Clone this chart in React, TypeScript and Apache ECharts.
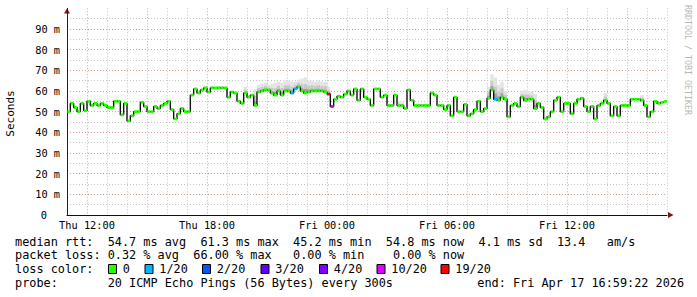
import React, { useEffect, useRef } from 'react';
import * as echarts from 'echarts';

// ---------- data ----------
const STEP_HOURS = 1 / 6; // 10-minute steps, hours since Thu 11:00

// median round-trip time (ms), one value per step
const median: number[] = [
  50, 54, 52, 50, 54, 50.5, 55, 53, 54, 53,
  54, 53, 52, 52, 55, 55, 48.5, 54, 45.5, 48,
  50, 50, 54.5, 52.5, 50, 50, 52.5, 51.5, 53, 54,
  55, 51, 46.5, 49, 51.5, 50, 50, 58, 61, 59,
  60.5, 61.5, 59.5, 61.5, 61.5, 61.5, 61.5, 61.5, 57, 59.5,
  59, 55, 54, 59, 57, 58, 53, 59.5, 60, 60.5,
  60.5, 59, 58, 60, 58, 60, 60, 59, 61, 62,
  60, 59, 59.5, 60, 60, 60, 60, 59.5, 58.5, 52.5,
  56, 57.5, 57, 58.5, 60, 58, 61, 55.5, 61, 57,
  56, 53, 61, 61, 57, 58, 53, 53, 58, 53,
  53, 51.5, 60.5, 55.5, 53, 53, 53, 53, 53, 59,
  58, 53, 53, 51, 53, 48, 57, 50, 50, 53.5,
  48, 49, 51, 55, 50, 51.5, 56.5, 60.5, 56, 55.5,
  57, 56, 47.5, 53, 54, 52.5, 57, 55.5, 56, 56,
  51.5, 54, 52, 46.5, 47.5, 50, 55.5, 57, 50, 54,
  54, 49, 54, 56, 56.5, 52.5, 50, 52.5, 46.5, 53,
  54, 55.5, 54, 48, 52.5, 48, 53, 53, 53, 56,
  56, 56, 55.5, 53, 47.5, 50, 55, 54, 54.5, 55,
];

// [step index, loss class index] for steps with packet loss
const lossAt: number[][] = [[67, 1], [68, 1], [78, 6], [79, 5], [128, 1]];
const lossColors = ['#26ff00', '#00b8ff', '#0059ff', '#5e00ff', '#7e00ff', '#dd00ff', '#ff0000'];
const lossLabels = ['0', '1/20', '2/20', '3/20', '4/20', '10/20', '19/20'];

// [step index, top of the ping smoke (ms)]
const smokeTop: number[][] = [
  [41, 62.5], [43, 62.5], [45, 62.5], [46, 62.5],
  [53, 62], [56, 61], [57, 63], [58, 63.5], [59, 64], [60, 63], [61, 63.5], [62, 64],
  [63, 64.5], [64, 64], [65, 65], [66, 65], [67, 64.5], [68, 64.5], [69, 65.5], [70, 66],
  [71, 66.5], [72, 65], [73, 65], [74, 64.5], [75, 65], [76, 64.5], [77, 64.5], [78, 62],
  [99, 55], [100, 54.5],
  [126, 62], [127, 68], [128, 66.5], [129, 63], [130, 64.5], [131, 60],
  [136, 60], [137, 60.5], [138, 60], [139, 59.5], [140, 58.5],
  [161, 59], [172, 58],
];

const xTickHours = [1, 7, 13, 19, 25];
const xTickLabels = ['Thu 12:00', 'Thu 18:00', 'Fri 00:00', 'Fri 06:00', 'Fri 12:00'];

const rttRow = ['median rtt:', '54.7 ms avg', '61.3 ms max', '45.2 ms min', '54.8 ms now', '4.1 ms sd', '13.4', 'am/s'];
const lossRow = ['packet loss:', '0.32 % avg', '66.00 % max', '0.00 % min', '0.00 % now'];
const probeRow = ['probe:', '20 ICMP Echo Pings (56 Bytes) every 300s'];
const endText = 'end: Fri Apr 17 16:59:22 2026';
const lossColorTitle = 'loss color:';
const yTitle = 'Seconds';
const sideText = 'RRDTOOL / TOBI OETIKER';

// ---------- layout ----------
const MONO = "'DejaVu Sans Mono', monospace";
const LEG_FS = 11.85;
const ADV = 7.13;
const LEG_X0 = 15;
const rttCols = [0, 13, 26, 39, 52, 65, 76, 83];
const lossCols = [0, 13, 25, 39, 53];
const probeCols = [0, 13];
const boxX = [108.5, 145, 202.5, 261, 319.5, 377, 441];
const MAJOR = '#e79a9a';
const MINOR = '#c4c4c4';

function lossClass(i: number): number {
  const f = lossAt.find((p) => p[0] === i);
  return f ? f[1] : 0;
}

export default function App() {
  const ref = useRef<HTMLDivElement>(null);
  useEffect(() => {
    if (!ref.current) return;
    const chart = echarts.init(ref.current, undefined, { renderer: 'svg' });

    const lineData = median.map((v, i) => [i * STEP_HOURS, v]);
    const barData = median.map((v, i) => [i * STEP_HOURS, v, lossClass(i)]);
    const smokeData = smokeTop.map(([i, hi]) => [i * STEP_HOURS, median[i] - 0.4, hi]);

    const xGridColors = Array.from({ length: 31 }, (_, k) => (k % 3 === 1 ? MAJOR : MINOR));
    const yGridColors = Array.from({ length: 21 }, (_, k) =>
      k === 20 ? 'rgba(0,0,0,0)' : k % 2 === 0 ? MAJOR : MINOR
    );

    const graphics: any[] = [];
    const legText = (text: string, x: number, y: number) =>
      graphics.push({
        type: 'text', x, y, silent: true,
        style: { text, fontFamily: MONO, fontSize: LEG_FS, fill: '#000', verticalAlign: 'middle', align: 'left' },
      });
    rttRow.forEach((t, k) => legText(t, LEG_X0 + rttCols[k] * ADV, 241.5));
    lossRow.forEach((t, k) => legText(t, LEG_X0 + lossCols[k] * ADV, 255.2));
    legText(lossColorTitle, LEG_X0, 269);
    lossLabels.forEach((t, k) => {
      graphics.push({
        type: 'rect', shape: { x: boxX[k], y: 264.5, width: 8, height: 9 },
        style: { fill: lossColors[k], stroke: '#000', lineWidth: 1 }, silent: true,
      });
      legText(t, boxX[k] + 14.3, 269);
    });
    probeRow.forEach((t, k) => legText(t, LEG_X0 + probeCols[k] * ADV, 282.7));
    legText(endText, 477.3, 282.7);

    graphics.push({
      type: 'text', x: 10.7, y: 113.5, rotation: Math.PI / 2, silent: true,
      style: { text: yTitle, fontFamily: MONO, fontSize: 11, fill: '#000', align: 'center', verticalAlign: 'middle' },
    });
    graphics.push({
      type: 'text', x: 688, y: 60, rotation: -Math.PI / 2, silent: true,
      style: { text: sideText, fontFamily: MONO, fontSize: 8.3, fill: '#b8b8b8', align: 'center', verticalAlign: 'middle' },
    });
    graphics.push({
      type: 'polygon', silent: true, shape: { points: [[64, 13.5], [70, 13.5], [67, 8.5]] },
      style: { fill: '#7f1414' },
    });
    graphics.push({
      type: 'polygon', silent: true, shape: { points: [[668, 212], [668, 218], [673.5, 215]] },
      style: { fill: '#7f1414' },
    });

    const option: any = {
      animation: false,
      backgroundColor: '#ffffff',
      grid: { left: 67, right: 30, top: 8.3, bottom: 82, containLabel: false },
      xAxis: {
        type: 'value', min: 0, max: 30, interval: 1,
        axisLine: { show: true, lineStyle: { color: '#111', width: 1 } },
        axisTick: { show: false },
        axisLabel: {
          formatter: (v: number) => {
            const k = xTickHours.indexOf(Math.round(v));
            return k >= 0 ? xTickLabels[k] : '';
          },
          fontFamily: MONO, fontSize: 10.3, color: '#000', margin: 5,
        },
        splitLine: { show: true, lineStyle: { color: xGridColors, type: [1, 2], width: 1 } },
      },
      yAxis: {
        type: 'value', min: 0, max: 100, interval: 5,
        axisLine: { show: true, lineStyle: { color: '#222', width: 1 } },
        axisTick: { show: false },
        axisLabel: {
          formatter: (v: number) => (v === 0 ? '{z|0}' : v % 10 === 0 && v < 100 ? `${v} m` : ''),
          fontFamily: MONO, fontSize: 10.3, color: '#000', margin: 7,
          rich: { z: { fontFamily: MONO, fontSize: 10.3, color: '#000', padding: [0, 13, 0, 0] } },
        },
        splitLine: { show: true, lineStyle: { color: yGridColors, type: [1, 2], width: 1 } },
      },
      series: [
        {
          type: 'custom', z: 1, silent: true,
          encode: { x: 0, y: [1, 2] },
          data: smokeData,
          renderItem: (_p: any, api: any) => {
            const t = api.value(0), lo = api.value(1), hi = api.value(2);
            const x0 = api.coord([t, lo])[0];
            const x1 = api.coord([t + STEP_HOURS, lo])[0];
            const layers: [number, number, string][] = [
              [0.6, 1, '#e3e3e3'], [0.3, 0.6, '#c9c9c9'], [0, 0.3, '#a2a2a2'],
            ];
            return {
              type: 'group',
              children: layers.map(([f0, f1, col]) => {
                const yA = api.coord([t, lo + (hi - lo) * f1])[1];
                const yB = api.coord([t, lo + (hi - lo) * f0])[1];
                return { type: 'rect', shape: { x: x0, y: yA, width: x1 - x0, height: yB - yA }, style: { fill: col } };
              }),
            };
          },
        },
        {
          type: 'line', z: 2, silent: true, step: 'end', symbol: 'none',
          data: lineData,
          lineStyle: { color: '#111111', width: 1.4 },
        },
        {
          type: 'custom', z: 3, silent: true,
          encode: { x: 0, y: 1 },
          data: barData,
          renderItem: (_p: any, api: any) => {
            const t = api.value(0), v = api.value(1), c = api.value(2);
            const a = api.coord([t, v]);
            const b = api.coord([t + STEP_HOURS, v]);
            return {
              type: 'rect',
              shape: { x: a[0] + 0.4, y: a[1] - 1.4, width: b[0] - a[0] - 0.4, height: 2.8 },
              style: { fill: lossColors[c] },
            };
          },
        },
      ],
      graphic: graphics,
    };
    chart.setOption(option);
    return () => chart.dispose();
  }, []);

  return (
    <div
      ref={ref}
      style={{ position: 'fixed', left: 0, top: 0, width: 697, height: 297, background: '#fff' }}
    />
  );
}
